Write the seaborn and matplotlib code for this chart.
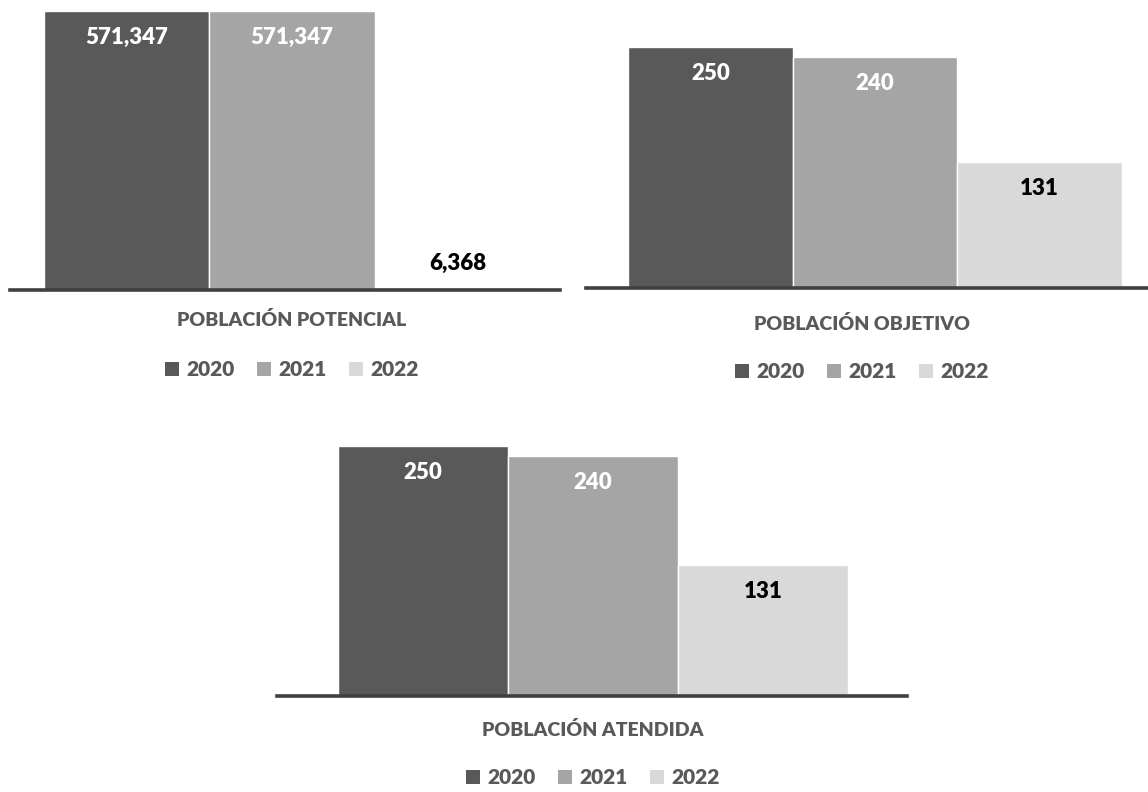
import pandas as pd
import matplotlib.pyplot as plt
from matplotlib.patches import Patch
import seaborn as sns

sns.set_theme(style="white")
plt.rcParams["font.family"] = ["Lato", "DejaVu Sans"]

# -----------------------------------
# Data
# -----------------------------------
years = ["2020", "2021", "2022"]
panels = ["POBLACIÓN POTENCIAL", "POBLACIÓN OBJETIVO", "POBLACIÓN ATENDIDA"]
potencial = [571347, 571347, 6368]
objetivo = [250, 240, 131]
atendida = [250, 240, 131]

colors = ["#595959", "#A5A5A5", "#D9D9D9"]
label_colors = ["white", "white", "black"]
text_gray = "#595959"

rows = []
for name, vals in zip(panels, [potencial, objetivo, atendida]):
    for y, v in zip(years, vals):
        rows.append({"poblacion": name, "anio": y, "valor": v})
df = pd.DataFrame(rows)

# -----------------------------------
# Layout (pixels of a 1148x792 canvas)
# -----------------------------------
W, H = 1148, 792
fig = plt.figure(figsize=(W / 100, H / 100), dpi=100)


def px_rect(x0, y0, x1, y1):
    return [x0 / W, 1 - y1 / H, (x1 - x0) / W, (y1 - y0) / H]


layout = {
    panels[0]: dict(rect=px_rect(10, 0, 560, 290), ytop=571347 * 290 / 279,
                    xlim=(-0.455, 0.432), cx=292, ty=320, ly=370),
    panels[1]: dict(rect=px_rect(586, 0, 1148, 288), ytop=250 * 288 / 241,
                    xlim=(-0.468, 0.442), cx=862, ty=324, ly=372),
    panels[2]: dict(rect=px_rect(277, 420, 907, 696), ytop=276,
                    xlim=(-0.496, 0.493), cx=593, ty=730, ly=778),
}

for name in panels:
    cfg = layout[name]
    ax = fig.add_axes(cfg["rect"])
    sub = df[df["poblacion"] == name]
    sns.barplot(data=sub, x="poblacion", y="valor", hue="anio", hue_order=years,
                palette=colors, width=0.8, gap=0, edgecolor="white", linewidth=1,
                legend=False, ax=ax)
    ax.set_ylim(0, cfg["ytop"])
    ax.set_xlim(*cfg["xlim"])
    ax.set_xticks([])
    ax.set_yticks([])
    ax.set_xlabel("")
    ax.set_ylabel("")
    for s in ["top", "left", "right"]:
        ax.spines[s].set_visible(False)
    ax.spines["bottom"].set_color("#404040")
    ax.spines["bottom"].set_linewidth(2.6)

    # value labels
    for i, cont in enumerate(ax.containers):
        bar = cont.patches[0]
        val = sub["valor"].iloc[i]
        xc = bar.get_x() + bar.get_width() / 2
        h = bar.get_height()
        if h / cfg["ytop"] < 0.1:
            ax.annotate(f"{val:,}", (xc, h), xytext=(0, 17), textcoords="offset points",
                        ha="center", va="center", fontsize=16, fontweight="heavy",
                        color="black")
        else:
            ax.annotate(f"{val:,}", (xc, h), xytext=(0, -19), textcoords="offset points",
                        ha="center", va="center", fontsize=16, fontweight="heavy",
                        color=label_colors[i])

    fig.text(cfg["cx"] / W, 1 - cfg["ty"] / H, name, ha="center", va="center",
             fontsize=14, fontweight="heavy", color=text_gray)

    handles = [Patch(facecolor=c, edgecolor="none", label=y) for c, y in zip(colors, years)]
    fig.legend(handles=handles, loc="center", bbox_to_anchor=(cfg["cx"] / W, 1 - cfg["ly"] / H),
               ncol=3, frameon=False, handlelength=0.65, handleheight=0.65,
               handletextpad=0.35, columnspacing=1.1,
               prop={"size": 15, "weight": "heavy"}, labelcolor=text_gray)

fig.savefig("out.png", dpi=100)
